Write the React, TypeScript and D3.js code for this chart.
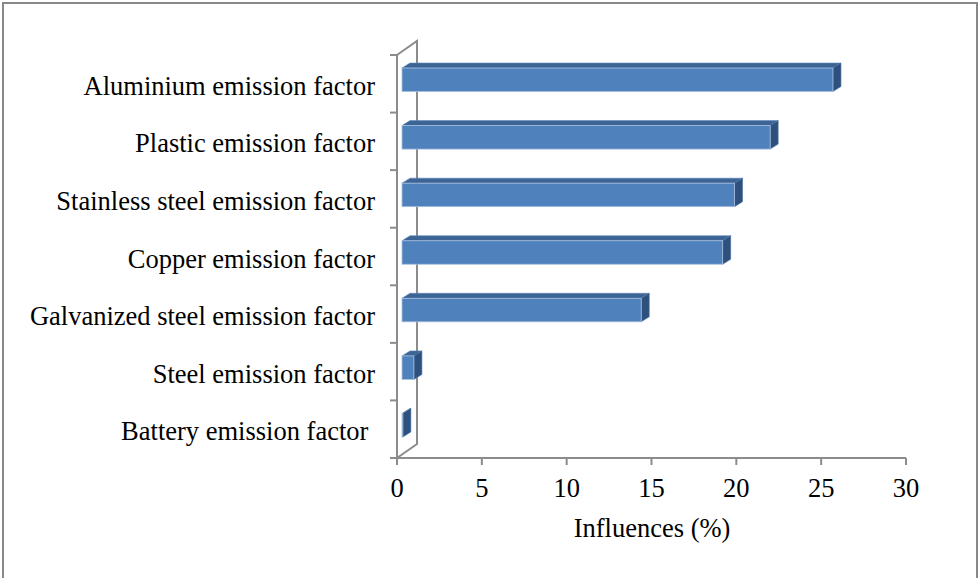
import * as d3 from "d3";

const categories = [
  "Aluminium emission factor",
  "Plastic emission factor",
  "Stainless steel emission factor",
  "Copper emission factor",
  "Galvanized steel emission factor",
  "Steel emission factor",
  "Battery emission factor ",
];
const influences = [25.4, 21.7, 19.6, 18.9, 14.1, 0.7, 0.05];
const xTicks = [0, 5, 10, 15, 20, 25, 30];
const axisTitle = "Influences (%)";

const W = 979;
const H = 578;
const font = "'Liberation Serif', 'Times New Roman', serif";
const fs = 26.5;

// wall depth and bar depth (pseudo-3d offsets)
const depth = { dx: 20, dy: -14 };
const barOff = { dx: 5, dy: -4 };
const barSide = { dx: 8, dy: -5 };
const barH = 23.5;

const App = () => {
  const x = d3.scaleLinear().domain([0, 30]).range([397, 906]);
  const y = d3.scaleBand<string>().domain(categories).range([55, 458]);
  const x0 = x(0);
  const yTop = 55;
  const yBot = 458;
  const axisColor = "#8c8c8c";

  return (
    <svg
      width={W}
      height={H}
      style={{ position: "absolute", left: 0, top: 0, background: "#fff" }}
    >
      <rect x={3} y={3} width={974} height={580} fill="none" stroke="#888" strokeWidth={2} />

      {/* back wall */}
      <path
        d={`M${x0},${yTop} L${x0 + depth.dx},${yTop + depth.dy} L${x0 + depth.dx},${yBot + depth.dy} L${x0},${yBot}`}
        fill="none"
        stroke={axisColor}
        strokeWidth={2}
      />
      {/* y axis */}
      <line x1={x0} x2={x0} y1={yTop} y2={yBot} stroke={axisColor} strokeWidth={2} />
      {d3.range(categories.length + 1).map((i) => {
        const yy = yTop + i * y.step();
        return <line key={i} x1={x0 - 7} x2={x0} y1={yy} y2={yy} stroke={axisColor} strokeWidth={2} />;
      })}
      {/* x axis */}
      <line x1={x0} x2={x(30)} y1={yBot} y2={yBot} stroke={axisColor} strokeWidth={2} />
      {xTicks.map((t) => (
        <g key={t}>
          <line x1={x(t)} x2={x(t)} y1={yBot} y2={yBot + 7} stroke={axisColor} strokeWidth={2} />
          <text x={x(t)} y={497} textAnchor="middle" fontFamily={font} fontSize={fs} fill="#000">
            {t}
          </text>
        </g>
      ))}
      <text x={652} y={537} textAnchor="middle" fontFamily={font} fontSize={fs} fill="#000">
        {axisTitle}
      </text>

      {/* category labels */}
      {categories.map((c) => (
        <text
          key={c}
          x={375}
          y={(y(c) ?? 0) + y.bandwidth() / 2 + 11}
          textAnchor="end"
          fontFamily={font}
          fontSize={fs}
          fill="#000"
          style={{ whiteSpace: "pre" }}
        >
          {c}
        </text>
      ))}

      {/* bars */}
      {categories.map((c, i) => {
        const v = influences[i];
        const left = x0 + barOff.dx;
        const right = x(v) + barOff.dx;
        const top = (y(c) ?? 0) + y.bandwidth() / 2 + barOff.dy - barH / 2;
        const bot = top + barH;
        const sdx = barSide.dx;
        const sdy = barSide.dy;
        return (
          <g key={c}>
            <path
              d={`M${left},${top} L${left + sdx},${top + sdy} L${right + sdx},${top + sdy} L${right},${top} Z`}
              fill="#3c6595"
              stroke="#5b85b8"
              strokeWidth={0.6}
            />
            <path
              d={`M${right},${top} L${right + sdx},${top + sdy} L${right + sdx},${bot + sdy} L${right},${bot} Z`}
              fill="#2e507c"
              stroke="#4a70a0"
              strokeWidth={0.6}
            />
            <rect
              x={left}
              y={top}
              width={Math.max(0, right - left)}
              height={barH}
              fill="#4f81bd"
              stroke="#a9c0df"
              strokeWidth={0.8}
            />
          </g>
        );
      })}
    </svg>
  );
};

export default App;
